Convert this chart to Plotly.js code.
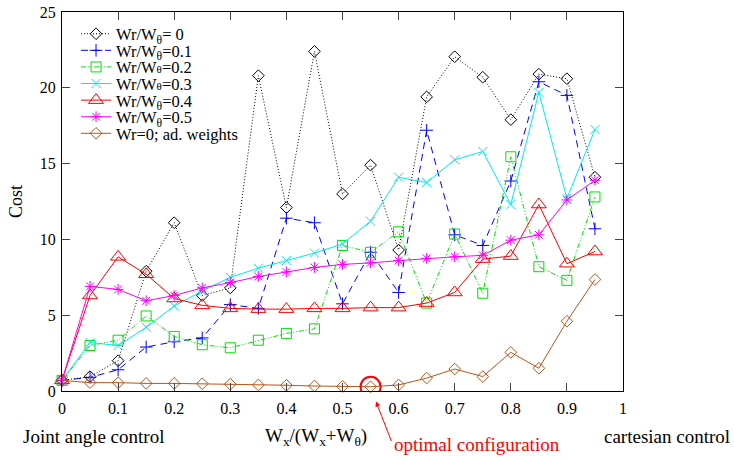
<!DOCTYPE html>
<html>
<head>
<meta charset="utf-8">
<script src="https://cdn.plot.ly/plotly-3.0.1.min.js"></script>
<style>html,body{margin:0;padding:0;background:#fff}#plot{width:734px;height:460px}</style>
</head>
<body>
<div id="plot"></div>
<script>
var xVals = [0,0.05,0.1,0.15,0.2,0.25,0.3,0.35,0.4,0.45,0.5,0.55,0.6,0.65,0.7,0.75,0.8,0.85,0.9,0.95];
var seriesNames = [
  "Wr/W<sub>θ</sub>= 0",
  "Wr/W<sub>θ</sub>=0.1",
  "Wr/W<span style='font-size:11px'>θ</span>=0.2",
  "Wr/W<span style='font-size:11px'>θ</span>=0.3",
  "Wr/W<sub>θ</sub>=0.4",
  "Wr/W<sub>θ</sub>=0.5",
  "Wr=0; ad. weights"
];
var w00 = [0.7,0.95,2.0,7.9,11.1,6.3,6.8,20.8,12.1,22.4,13.0,14.9,9.3,19.4,22.05,20.7,17.9,20.9,20.6,14.1];
var w01 = [0.7,0.9,1.4,2.9,3.25,3.5,5.7,5.45,11.4,11.1,5.75,9.15,6.5,17.2,10.3,9.6,13.85,20.4,19.5,10.7];
var w02 = [0.7,3.0,3.35,4.95,3.6,3.05,2.85,3.35,3.8,4.1,9.6,9.15,10.5,5.8,10.35,6.45,15.45,8.2,7.3,12.8];
var w03 = [0.7,3.2,3.0,4.2,5.6,6.6,7.5,8.1,8.6,9.1,9.7,11.2,14.1,13.75,15.25,15.8,12.3,19.7,12.7,17.25];
var w04 = [0.7,6.3,8.85,7.7,6.1,5.65,5.45,5.4,5.4,5.45,5.45,5.5,5.5,5.8,6.5,8.7,8.9,12.3,8.4,9.2];
var w05 = [0.7,6.9,6.7,5.95,6.3,6.8,7.15,7.55,7.85,8.15,8.35,8.45,8.6,8.75,8.85,8.95,9.95,10.3,12.6,13.9];
var adw = [0.7,0.55,0.55,0.5,0.5,0.48,0.45,0.4,0.38,0.33,0.3,0.28,0.4,0.85,1.45,0.95,2.55,1.5,4.6,7.35];
var xTicks = [0,0.1,0.2,0.3,0.4,0.5,0.6,0.7,0.8,0.9,1];
var xTickText = ["0","0.1","0.2","0.3","0.4","0.5","0.6","0.7","0.8","0.9","1"];
var yTicks = [0,5,10,15,20,25];
var optimalX = 0.55, optimalY = 0.28;

var F = '"Liberation Serif", "Times New Roman", serif';
var legendIds = ['legend','legend2','legend3','legend4','legend5','legend6','legend7'];
function tr(i, y, color, dash, symbol, size){
  return {x:xVals, y:y, name:seriesNames[i], type:'scatter', mode:'lines+markers',
    legend:legendIds[i],
    line:{color:color, width:1, dash:dash},
    marker:{symbol:symbol, size:size, color:color, line:{color:color, width:1}},
    cliponaxis:false};
}
var data = [
  tr(0, w00, '#000000', '1px,2px', 'diamond-open', 9),
  tr(1, w01, '#0000ff', '7px,5px', 'cross-thin-open', 9),
  tr(2, w02, '#00e000', '5px,2px,1px,2px,1px,2px', 'square-open', 10),
  tr(3, w03, '#00e8f0', 'solid', 'x-thin-open', 9),
  tr(4, w04, '#ff0000', 'solid', 'triangle-up-open', 13),
  tr(5, w05, '#ff00ff', 'solid', 'asterisk-open', 9),
  tr(6, adw, '#b5561a', 'solid', 'diamond-open', 9)
];
var layout = {
  width:734, height:460,
  margin:{l:62, r:111, t:12, b:69, pad:0},
  paper_bgcolor:'#fff', plot_bgcolor:'#fff',
  font:{family:F, size:16, color:'#000'},
  showlegend:true,
  xaxis:{range:[0,1], tickvals:xTicks, ticktext:xTickText, ticks:'inside', ticklen:8,
    showline:true, linecolor:'#000', linewidth:1, mirror:'allticks', showgrid:false, zeroline:false,
    tickfont:{family:F, size:16}, ticklabelstandoff:3, fixedrange:true},
  yaxis:{range:[0,25], tickvals:yTicks, ticks:'inside', ticklen:8,
    showline:true, linecolor:'#000', linewidth:1, mirror:'allticks', showgrid:false, zeroline:false,
    tickfont:{family:F, size:16}, ticklabelstandoff:2,
    title:{text:'Cost', font:{family:F, size:18}, standoff:12}, fixedrange:true},
  shapes:[{type:'circle', xref:'x', yref:'y', xsizemode:'pixel', ysizemode:'pixel',
    xanchor:optimalX, yanchor:optimalY, x0:-10, x1:10, y0:-10, y1:10,
    line:{color:'#ff0000', width:2}}],
  annotations:[
    {xref:'paper', yref:'paper', x:-0.073, y:-0.121, xanchor:'left', yanchor:'middle',
      text:'Joint angle control', showarrow:false, font:{family:F, size:19}},
    {xref:'paper', yref:'paper', x:1.195, y:-0.121, xanchor:'right', yanchor:'middle',
      text:'cartesian control', showarrow:false, font:{family:F, size:19}},
    {xref:'paper', yref:'paper', x:0.453, y:-0.121, xanchor:'center', yanchor:'middle',
      text:'W<sub>x</sub>/(W<sub>x</sub>+W<sub>θ</sub>)', showarrow:false, font:{family:F, size:19}},
    {xref:'paper', yref:'paper', x:0.588, y:-0.14, xanchor:'left', yanchor:'middle',
      text:'optimal configuration', showarrow:false, font:{family:F, size:19, color:'#ff0000'}},
    {xref:'paper', yref:'paper', x:0.5597, y:-0.028, text:'', showarrow:true, arrowhead:2,
      arrowsize:1, arrowwidth:1, arrowcolor:'#ff0000', ax:16, ay:41, axref:'pixel', ayref:'pixel'}
  ]
};
legendIds.forEach(function(id, i){
  var py = 34 + 16.6*i;
  layout[id] = {x:0.025, y:(391 - py)/379, xanchor:'left', yanchor:'middle',
    bgcolor:'rgba(0,0,0,0)', borderwidth:0, font:{family:F, size:16.5}};
});
Plotly.newPlot('plot', data, layout, {displayModeBar:false, staticPlot:true});
</script>
</body>
</html>
